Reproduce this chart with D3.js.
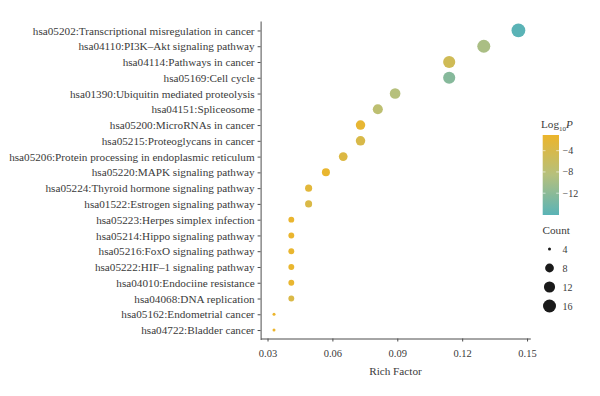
<!DOCTYPE html>
<html>
<head>
<meta charset="utf-8">
<script src="https://cdn.jsdelivr.net/npm/d3@7"></script>
<style>
  body { margin: 0; background: #fff; }
  text { font-family: "Liberation Serif", "DejaVu Serif", serif; }
</style>
</head>
<body>
<svg width="600" height="396"></svg>
<script>

// pathways, top to bottom
var pathways = [
  "hsa05202:Transcriptional misregulation in cancer",
  "hsa04110:PI3K\u2013Akt signaling pathway",
  "hsa04114:Pathways in cancer",
  "hsa05169:Cell cycle",
  "hsa01390:Ubiquitin mediated proteolysis",
  "hsa04151:Spliceosome",
  "hsa05200:MicroRNAs in cancer",
  "hsa05215:Proteoglycans in cancer",
  "hsa05206:Protein processing in endoplasmic reticulum",
  "hsa05220:MAPK signaling pathway",
  "hsa05224:Thyroid hormone signaling pathway",
  "hsa01522:Estrogen signaling pathway",
  "hsa05223:Herpes simplex infection",
  "hsa05214:Hippo signaling pathway",
  "hsa05216:FoxO signaling pathway",
  "hsa05222:HIF\u20131 signaling pathway",
  "hsa04010:Endociine resistance",
  "hsa04068:DNA replication",
  "hsa05162:Endometrial cancer",
  "hsa04722:Bladder cancer"
];
var richFactor = [0.146, 0.130, 0.114, 0.114, 0.089, 0.081, 0.073, 0.073, 0.065, 0.057,
                  0.049, 0.049, 0.041, 0.041, 0.041, 0.041, 0.041, 0.041, 0.033, 0.033];
var counts = [18, 16, 14, 14, 11, 10, 9, 9, 8, 7, 6, 6, 5, 5, 5, 5, 5, 5, 4, 4];
var log10P = [-16.1, -9.5, -5, -12.5, -8.5, -7.5, -1.8, -3.8, -3.3, -1.4,
              -2.4, -3.6, -1.3, -1.3, -1.4, -1.4, -1.5, -3.6, -1.05, -1.1];
var xTicks = [0.03, 0.06, 0.09, 0.12, 0.15];
var colorTicks = [-4, -8, -12];
var countBreaks = [4, 8, 12, 16];

var svg = d3.select("svg");
var txt = "#3a3a3a", axisCol = "#4d4d4d";
var fs = 11.2;

var x = d3.scaleLinear()
    .domain([0.0268, 0.1515])
    .range([260.6, 530.3]);

var y = d3.scalePoint()
    .domain(pathways)
    .range([21, 339.5])
    .padding(0.6);

var cExtent = [d3.min(log10P), d3.max(log10P)];
var color = d3.scaleLinear()
    .domain([cExtent[0], -8.5, cExtent[1]])
    .range(["#5AB3B6", "#B6C07C", "#ECB52B"]);

var cnt = d3.scaleLinear().domain(d3.extent(counts)).range([0, 1]);
function radius(c) { return 1.5 + 5.4 * Math.sqrt(Math.max(0, cnt(c))); }

// axes
var gx = svg.append("g")
    .attr("transform", "translate(0,338.5)")
    .call(d3.axisBottom(x).tickValues(xTicks).tickFormat(d3.format(".2f")).tickSize(3).tickSizeOuter(0));
gx.select(".domain").attr("stroke", axisCol);
gx.selectAll(".tick line").attr("stroke", axisCol);
gx.selectAll(".tick text").attr("fill", txt).attr("font-size", 10.5).attr("dy", "1.15em")
    .attr("font-family", "Liberation Serif, serif");

var gy = svg.append("g")
    .attr("transform", "translate(260.6,0)")
    .call(d3.axisLeft(y).tickSize(3).tickSizeOuter(0));
gy.select(".domain").attr("stroke", axisCol);
gy.selectAll(".tick line").attr("stroke", axisCol);
gy.selectAll(".tick text").attr("fill", txt).attr("font-size", fs)
    .attr("font-family", "Liberation Serif, serif");

svg.append("text")
    .attr("x", (x.range()[0] + x.range()[1]) / 2)
    .attr("y", 375)
    .attr("text-anchor", "middle")
    .attr("font-size", fs)
    .attr("fill", txt)
    .text("Rich Factor");

// points
var rows = pathways.map(function(p, i) {
  return {name: p, rf: richFactor[i], count: counts[i], p: log10P[i]};
});

svg.append("g").selectAll("circle")
  .data(rows)
  .enter().append("circle")
    .attr("cx", function(d) { return x(d.rf); })
    .attr("cy", function(d) { return y(d.name); })
    .attr("r", function(d) { return radius(d.count); })
    .attr("fill", function(d) { return color(d.p); });

// colour legend
var lg = svg.append("g");
var t = lg.append("text").attr("x", 541).attr("y", 128).attr("font-size", fs).attr("fill", txt);
t.append("tspan").text("Log");
t.append("tspan").attr("font-size", 7).attr("dy", 3).text("10");
t.append("tspan").attr("font-style", "italic").attr("dy", -3).text("P");

var grad = svg.append("defs").append("linearGradient")
    .attr("id", "pgrad").attr("x1", 0).attr("y1", 1).attr("x2", 0).attr("y2", 0);
d3.range(0, 1.0001, 0.1).forEach(function(s) {
  grad.append("stop")
      .attr("offset", s)
      .attr("stop-color", color(cExtent[0] + s * (cExtent[1] - cExtent[0])));
});

var barY = d3.scaleLinear().domain(cExtent).range([215, 135]);
lg.append("rect")
    .attr("x", 542.7).attr("y", 135).attr("width", 16.3).attr("height", 80)
    .attr("fill", "url(#pgrad)");
colorTicks.forEach(function(v) {
  lg.append("line").attr("x1", 542.7).attr("x2", 545.5).attr("y1", barY(v)).attr("y2", barY(v))
      .attr("stroke", "#fff").attr("stroke-width", 0.6);
  lg.append("line").attr("x1", 556.2).attr("x2", 559).attr("y1", barY(v)).attr("y2", barY(v))
      .attr("stroke", "#fff").attr("stroke-width", 0.6);
  lg.append("text").attr("x", 562.5).attr("y", barY(v)).attr("dy", "0.35em")
      .attr("font-size", 10).attr("fill", txt)
      .text("\u2212" + Math.abs(v));
});

// size legend
lg.append("text").attr("x", 542.5).attr("y", 234).attr("font-size", fs).attr("fill", txt).text("Count");
var sizeY = d3.scalePoint().domain(countBreaks).range([249, 306]);
countBreaks.forEach(function(c) {
  lg.append("circle").attr("cx", 549.5).attr("cy", sizeY(c)).attr("r", radius(c)).attr("fill", "#1a1a1a");
  lg.append("text").attr("x", 562.5).attr("y", sizeY(c)).attr("dy", "0.35em")
      .attr("font-size", 10).attr("fill", txt).text(c);
});

</script>
</body>
</html>
